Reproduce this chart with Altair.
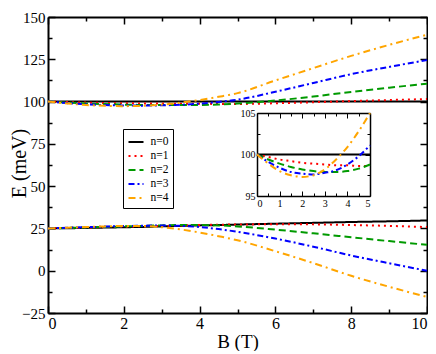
import altair as alt
import pandas as pd

# ---------------- data ----------------
B = [0, 0.5, 1, 1.5, 2, 2.5, 3, 3.5, 4, 4.5, 5, 6, 7, 8, 9, 10]

upper_n0 = [100, 100, 100, 100, 100, 100, 100, 100, 100, 100, 100, 100, 100, 100, 100, 100]
upper_n1 = [100, 99.7, 99.4, 99.2, 99.0, 98.9, 98.8, 98.7, 98.7, 98.6, 98.6, 99.0, 99.6, 100.3, 100.9, 101.5]
upper_n2 = [100, 99.4, 98.9, 98.5, 98.2, 98.0, 97.9, 97.9, 98.0, 98.3, 98.8, 100.6, 103.0, 105.7, 108.2, 110.6]
upper_n3 = [100, 99.1, 98.4, 97.9, 97.7, 97.6, 97.8, 98.1, 98.8, 99.8, 101.1, 105.8, 111.0, 116.2, 120.5, 124.5]
upper_n4 = [100, 98.9, 98.0, 97.5, 97.3, 97.5, 98.2, 99.4, 100.9, 102.8, 105.0, 112.5, 119.8, 127.0, 133.5, 139.5]

lower_n0 = [25, 25.1, 25.3, 25.5, 25.7, 25.9, 26.2, 26.5, 26.8, 27.0, 27.3, 27.8, 28.3, 28.8, 29.2, 29.7]
lower_n1 = [25, 25.3, 25.5, 25.8, 26.0, 26.3, 26.5, 26.8, 27.0, 27.2, 27.3, 27.5, 27.4, 27.0, 26.5, 25.8]
lower_n2 = [25, 25.3, 25.6, 25.9, 26.2, 26.5, 26.8, 27.0, 27.0, 26.8, 26.2, 24.3, 22.1, 19.8, 17.5, 15.3]
lower_n3 = [25, 25.4, 25.7, 26.1, 26.4, 26.6, 26.7, 26.5, 25.8, 24.6, 23.0, 19.0, 14.2, 9.0, 4.4, 0.0]
lower_n4 = [25, 25.4, 25.8, 26.2, 26.5, 26.4, 25.7, 24.4, 22.6, 20.4, 18.0, 11.5, 4.5, -3.0, -9.5, -15.5]

labels = ["n=0", "n=1", "n=2", "n=3", "n=4"]
colors = ["#000000", "#ff0000", "#009a00", "#0000ff", "#ffa500"]
dashes = [[1, 0], [2, 4], [7, 4], [6, 3, 2, 3], [7, 4, 2, 4]]

main_x_ticks = [0, 1, 2, 3, 4, 5, 6, 7, 8, 9, 10]
main_y_ticks = [-25, -12.5, 0, 12.5, 25, 37.5, 50, 62.5, 75, 87.5, 100, 112.5, 125, 137.5, 150]
inset_x_ticks = [0, 0.5, 1, 1.5, 2, 2.5, 3, 3.5, 4, 4.5, 5]
inset_y_ticks = [95, 97.5, 100, 102.5, 105]

uppers = [upper_n0, upper_n1, upper_n2, upper_n3, upper_n4]
lowers = [lower_n0, lower_n1, lower_n2, lower_n3, lower_n4]

rows = []
for lab, up, lo in zip(labels, uppers, lowers):
    for b, e in zip(B, up):
        rows.append({"n": lab, "branch": "upper", "B": b, "E": e})
    for b, e in zip(B, lo):
        rows.append({"n": lab, "branch": "lower", "B": b, "E": e})
df_main = pd.DataFrame(rows)
df_inset = df_main[(df_main.branch == "upper") & (df_main.B <= 5)]

# ---------------- layout ----------------
TOP = 9
W, H = 379, 296
FONT = "Liberation Serif"
INS_X = [209, 322]
INS_Y = [188 - TOP, 105 - TOP]

leg = alt.Legend(
    title=None, orient="none", legendX=75, legendY=121 - TOP,
    symbolType="stroke", symbolSize=225, symbolStrokeWidth=2,
    labelFont=FONT, labelFontSize=11.5, labelColor="black",
    strokeColor="black", padding=4.5, rowPadding=-1.5, labelOffset=6,
    fillColor="white",
)
color = alt.Color("n:N", scale=alt.Scale(domain=labels, range=colors), legend=leg)
dash = alt.StrokeDash("n:N", scale=alt.Scale(domain=labels, range=dashes), legend=leg)

common_axis = dict(domainColor="black", domainWidth=2, tickColor="black", tickWidth=1.5,
                   grid=False, labelFont=FONT, labelColor="black")

xs_main = alt.Scale(domain=[0, 10], nice=False)
ys_main = alt.Scale(domain=[-25, 150], nice=False)

main = alt.Chart(df_main).mark_line(strokeWidth=2, interpolate="monotone").encode(
    x=alt.X("B:Q", scale=xs_main, axis=alt.Axis(
        orient="bottom", values=main_x_ticks,
        tickSize={"expr": "datum.value % 2 == 0 ? -7 : -4"},
        labelExpr="datum.value % 2 == 0 ? datum.label : ''",
        labelFontSize=16, labelPadding=9, title="B (T)", titleFont=FONT,
        titleFontSize=19, titleFontWeight="normal", titleColor="black",
        titlePadding=1, **common_axis)),
    y=alt.Y("E:Q", scale=ys_main, axis=alt.Axis(
        orient="left", values=main_y_ticks,
        tickSize={"expr": "datum.value % 25 == 0 ? -7 : -4"},
        labelExpr="datum.value % 25 == 0 ? datum.label : ''",
        labelFontSize=15, labelPadding=10, title="E (meV)", titleFont=FONT,
        titleFontSize=20, titleFontWeight="normal", titleColor="black",
        titleX=-29, titleY=(163 - 8 - TOP), titleBaseline="middle", titleAlign="center",
        titleAngle=270, **common_axis)),
    color=color, strokeDash=dash, detail="branch:N",
)

main_mirror = alt.Chart(df_main).mark_line(opacity=0).encode(
    x=alt.X("B:Q", scale=xs_main, axis=alt.Axis(
        orient="top", values=main_x_ticks,
        tickSize={"expr": "datum.value % 2 == 0 ? -7 : -4"},
        labels=False, title=None, **common_axis)),
    y=alt.Y("E:Q", scale=ys_main, axis=alt.Axis(
        orient="right", values=main_y_ticks,
        tickSize={"expr": "datum.value % 25 == 0 ? -7 : -4"},
        labels=False, title=None, **common_axis)),
    detail="branch:N", strokeDash=dash, color=color,
)

xs_in = alt.Scale(domain=[0, 5], range=INS_X, nice=False)
ys_in = alt.Scale(domain=[95, 105], range=INS_Y, nice=False)
in_axis = dict(domainColor="black", domainWidth=1.5, tickColor="black", tickWidth=1,
               grid=False, labelFont=FONT, labelColor="black")

inset = alt.Chart(df_inset).mark_line(strokeWidth=2, interpolate="monotone").encode(
    x=alt.X("B:Q", scale=xs_in, axis=alt.Axis(
        orient="bottom", offset=-(H - INS_Y[0]), values=inset_x_ticks,
        tickSize={"expr": "datum.value % 1 == 0 ? -5 : -3"},
        labelExpr="datum.value % 1 == 0 ? '' + datum.value : ''",
        labelFontSize=10, labelPadding=7, title=None, **in_axis)),
    y=alt.Y("E:Q", scale=ys_in, axis=alt.Axis(
        orient="left", offset=-INS_X[0], values=inset_y_ticks,
        tickSize={"expr": "datum.value % 5 == 0 ? -5 : -3"},
        labelExpr="datum.value % 5 == 0 ? '' + datum.value : ''",
        labelFontSize=10, labelPadding=7, title=None, **in_axis)),
    color=color, strokeDash=dash, detail="branch:N",
)

inset_mirror = alt.Chart(df_inset).mark_line(opacity=0).encode(
    x=alt.X("B:Q", scale=xs_in, axis=alt.Axis(
        orient="top", offset=-INS_Y[1], values=inset_x_ticks,
        tickSize={"expr": "datum.value % 1 == 0 ? -5 : -3"},
        labels=False, title=None, **in_axis)),
    y=alt.Y("E:Q", scale=ys_in, axis=alt.Axis(
        orient="right", offset=-(W - INS_X[1]), values=inset_y_ticks,
        tickSize={"expr": "datum.value % 5 == 0 ? -5 : -3"},
        labels=False, title=None, **in_axis)),
    color=color, strokeDash=dash, detail="branch:N",
)

chart = alt.layer(main, main_mirror, inset, inset_mirror).resolve_scale(
    x="independent", y="independent"
).properties(
    width=W, height=H, autosize=alt.AutoSizeParams(type="none"),
    padding={"left": 40, "top": TOP, "right": 1, "bottom": 38},
).configure_view(stroke=None).configure(background="white")

chart.save("out.html", embed_options={"renderer": "svg", "actions": False})
